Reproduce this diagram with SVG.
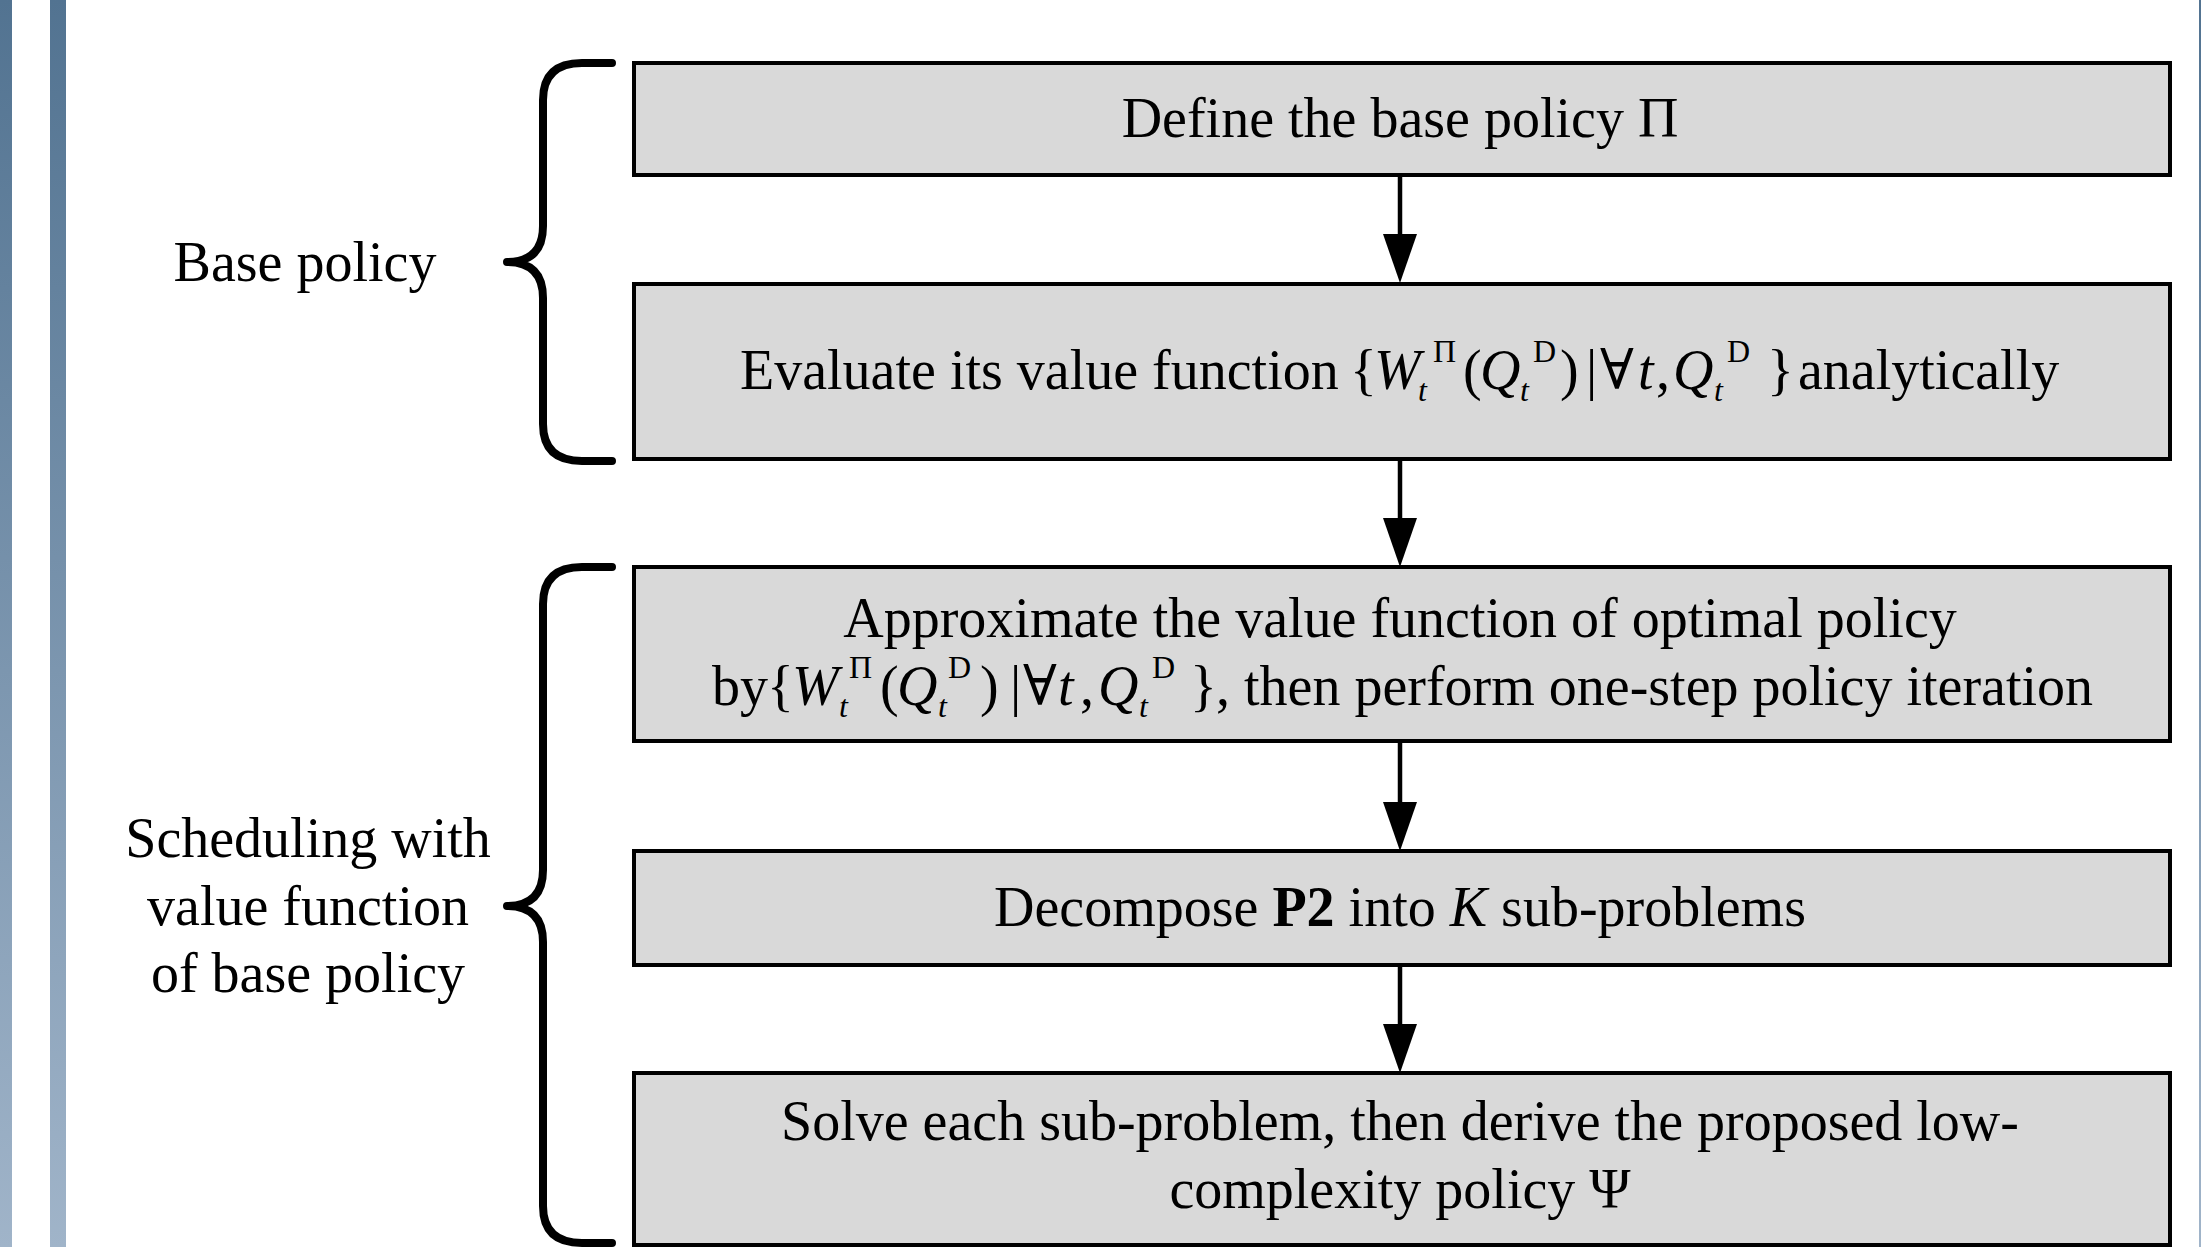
<svg xmlns="http://www.w3.org/2000/svg" width="2202" height="1247" viewBox="0 0 2202 1247">
  <defs>
    <linearGradient id="bar" x1="0" y1="0" x2="0" y2="1">
      <stop offset="0" stop-color="#527391"/>
      <stop offset="1" stop-color="#a0b4c9"/>
    </linearGradient>
    <style>
      .box { fill: #d9d9d9; stroke: #000; stroke-width: 4; }
      .t { font-family: "Liberation Serif", "Times New Roman", "DejaVu Serif", serif; font-size: 56px; fill: #000; }
      .m { text-anchor: middle; }
      .i { font-style: italic; }
      .b { font-weight: bold; }
      .s { font-size: 32px; }
      .brace { fill: none; stroke: #000; stroke-width: 8; stroke-linecap: round; stroke-linejoin: round; }
      .conn { stroke: #000; stroke-width: 4.5; fill: none; }
      .head { fill: #000; }
    </style>
  </defs>
  <rect width="2202" height="1247" fill="#fff"/>
  <g id="page-edges">
    <rect x="0" y="0" width="12" height="1247" fill="url(#bar)"/>
    <rect x="50" y="0" width="16" height="1247" fill="url(#bar)"/>
    <rect x="2199" y="0" width="2" height="1247" fill="url(#bar)"/>
  </g>

  <g id="connectors">
    <line class="conn" x1="1400" y1="175" x2="1400" y2="236"/>
    <polygon class="head" points="1383,234 1417,234 1400,283"/>
    <line class="conn" x1="1400" y1="459" x2="1400" y2="520"/>
    <polygon class="head" points="1383,518 1417,518 1400,567"/>
    <line class="conn" x1="1400" y1="741" x2="1400" y2="804"/>
    <polygon class="head" points="1383,802 1417,802 1400,851"/>
    <line class="conn" x1="1400" y1="965" x2="1400" y2="1026"/>
    <polygon class="head" points="1383,1024 1417,1024 1400,1073"/>
  </g>

  <g id="brace-base">
    <path class="brace" d="M612,63 L582,63 Q543,63 543,100 L543,226 Q543,262 507,262 Q543,262 543,298 L543,424 Q543,461 582,461 L612,461"/>
    <text class="t m" x="305" y="281">Base policy</text>
  </g>

  <g id="brace-scheduling">
    <path class="brace" d="M612,567 L582,567 Q543,567 543,604 L543,870 Q543,906 507,906 Q543,906 543,942 L543,1206 Q543,1243 582,1243 L612,1243"/>
    <text class="t m" x="308" y="857">Scheduling with</text>
    <text class="t m" x="308" y="925">value function</text>
    <text class="t m" x="308" y="992">of base policy</text>
  </g>

  <g id="node-define">
    <rect class="box" x="634" y="63" width="1536" height="112"/>
    <text class="t m" x="1400" y="137">Define the base policy Π</text>
  </g>

  <g id="node-evaluate">
    <rect class="box" x="634" y="284" width="1536" height="175"/>
    <text class="t" y="389"><tspan x="740">Evaluate its value function</tspan><tspan x="1350">{</tspan><tspan x="1374" class="i">W</tspan><tspan x="1418" y="401" class="s i">t</tspan><tspan x="1433" y="362" class="s">Π</tspan><tspan x="1463" y="389">(</tspan><tspan x="1480" class="i">Q</tspan><tspan x="1520" y="401" class="s i">t</tspan><tspan x="1533" y="362" class="s">D</tspan><tspan x="1560" y="389">)</tspan><tspan x="1586">|</tspan><tspan x="1600">∀</tspan><tspan x="1638" class="i">t</tspan><tspan x="1656">,</tspan><tspan x="1673" class="i">Q</tspan><tspan x="1714" y="401" class="s i">t</tspan><tspan x="1727" y="362" class="s">D</tspan><tspan x="1767" y="389">}</tspan><tspan x="1798">analytically</tspan></text>
  </g>

  <g id="node-approximate">
    <rect class="box" x="634" y="567" width="1536" height="174"/>
    <text class="t m" x="1400" y="637">Approximate the value function of optimal policy</text>
    <text class="t" y="705"><tspan x="712">by</tspan><tspan x="767">{</tspan><tspan x="792" class="i">W</tspan><tspan x="839" y="717" class="s i">t</tspan><tspan x="849" y="678" class="s">Π</tspan><tspan x="880" y="705">(</tspan><tspan x="897" class="i">Q</tspan><tspan x="938" y="717" class="s i">t</tspan><tspan x="948" y="678" class="s">D</tspan><tspan x="980" y="705">)</tspan><tspan x="1010">|</tspan><tspan x="1023">∀</tspan><tspan x="1058" class="i">t</tspan><tspan x="1080">,</tspan><tspan x="1098" class="i">Q</tspan><tspan x="1139" y="717" class="s i">t</tspan><tspan x="1152" y="678" class="s">D</tspan><tspan x="1190" y="705">}</tspan><tspan x="1216">, then perform one-step policy iteration</tspan></text>
  </g>

  <g id="node-decompose">
    <rect class="box" x="634" y="851" width="1536" height="114"/>
    <text class="t m" x="1400" y="926">Decompose <tspan class="b">P2</tspan> into <tspan class="i">K</tspan> sub-problems</text>
  </g>

  <g id="node-solve">
    <rect class="box" x="634" y="1073" width="1536" height="172"/>
    <text class="t m" x="1400" y="1140">Solve each sub-problem, then derive the proposed low-</text>
    <text class="t m" x="1400" y="1208">complexity policy Ψ</text>
  </g>
</svg>
